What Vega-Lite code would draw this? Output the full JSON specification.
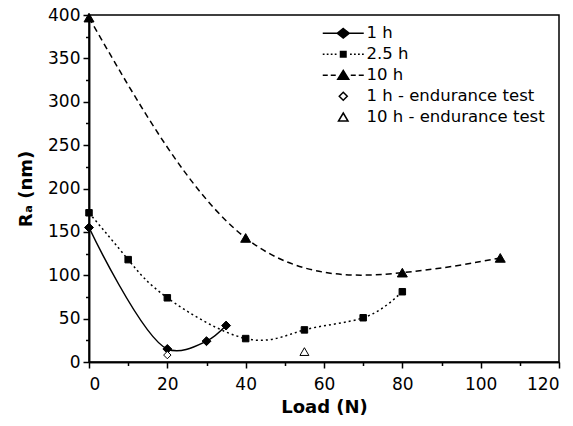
{
  "$schema": "https://vega.github.io/schema/vega-lite/v6.json",
  "width": 470,
  "height": 347,
  "autosize": {"type": "none"},
  "padding": {"top": 15, "left": 89, "right": 14, "bottom": 64},
  "background": "white",
  "config": {
    "view": {"stroke": "black", "strokeWidth": 1.5},
    "axis": {
      "domainColor": "black", "domainWidth": 1.5, "tickColor": "black", "tickWidth": 1.5,
      "labelColor": "black", "labelFont": "DejaVu Sans", "labelFontSize": 17, "grid": false,
      "titleColor": "black", "titleFont": "DejaVu Sans", "titleFontWeight": "bold", "titleFontSize": 18,
      "labelOverlap": false
    },
    "legend": {"labelFont": "DejaVu Sans", "labelColor": "black"}
  },
  "data": {
    "values": [
      {"series": "1 h", "load": 0, "ra": 155},
      {"series": "1 h", "load": 20, "ra": 15},
      {"series": "1 h", "load": 30, "ra": 24},
      {"series": "1 h", "load": 35, "ra": 42},
      {"series": "2.5 h", "load": 0, "ra": 172},
      {"series": "2.5 h", "load": 10, "ra": 118},
      {"series": "2.5 h", "load": 20, "ra": 74},
      {"series": "2.5 h", "load": 40, "ra": 27},
      {"series": "2.5 h", "load": 55, "ra": 37},
      {"series": "2.5 h", "load": 70, "ra": 51},
      {"series": "2.5 h", "load": 80, "ra": 81},
      {"series": "10 h", "load": 0, "ra": 397},
      {"series": "10 h", "load": 40, "ra": 143},
      {"series": "10 h", "load": 80, "ra": 103},
      {"series": "10 h", "load": 105, "ra": 120},
      {"series": "1 h - endurance test", "load": 20, "ra": 8},
      {"series": "10 h - endurance test", "load": 55, "ra": 12}
    ]
  },
  "layer": [
    {
      "transform": [{"filter": "datum.series === '2.5 h' || datum.series === '10 h'"}],
      "mark": {"type": "line", "interpolate": "natural", "stroke": "black", "strokeWidth": 1.5, "clip": false},
      "encoding": {
        "x": {"field": "load", "type": "quantitative", "scale": {"domain": [0, 120], "nice": false},
          "axis": {"orient": "bottom", "values": [0, 20, 40, 60, 80, 100, 120], "tickSize": 6, "labelPadding": 8, "title": "Load (N)", "titlePadding": 6}},
        "y": {"field": "ra", "type": "quantitative", "scale": {"domain": [0, 400], "nice": false},
          "axis": {"orient": "left", "values": [0, 50, 100, 150, 200, 250, 300, 350, 400], "tickSize": 6, "labelPadding": 3, "title": "Rₐ (nm)", "titlePadding": 12}},
        "detail": {"field": "series"},
        "strokeDash": {"field": "series", "type": "nominal",
          "scale": {"domain": ["1 h", "2.5 h", "10 h"], "range": [[1, 0], [2, 3], [6, 4]]}, "legend": null}
      }
    },
    {
      "transform": [{"filter": "datum.series === '1 h'"}],
      "mark": {"type": "line", "interpolate": "catmull-rom", "stroke": "black", "strokeWidth": 1.5, "clip": false},
      "encoding": {
        "x": {"field": "load", "type": "quantitative", "axis": null},
        "y": {"field": "ra", "type": "quantitative", "axis": null}
      }
    },
    {
      "mark": {"type": "point", "stroke": "black", "strokeWidth": 1, "opacity": 1, "clip": false},
      "encoding": {
        "x": {"field": "load", "type": "quantitative",
          "axis": {"orient": "bottom", "values": [10, 30, 50, 70, 90, 110], "tickSize": 3.5, "labels": false, "title": null}},
        "y": {"field": "ra", "type": "quantitative",
          "axis": {"orient": "left", "values": [25, 75, 125, 175, 225, 275, 325, 375], "tickSize": 3.5, "labels": false, "title": null}},
        "shape": {"field": "series", "type": "nominal",
          "scale": {"domain": ["1 h", "2.5 h", "10 h", "1 h - endurance test", "10 h - endurance test"],
            "range": ["diamond", "square", "triangle-up", "diamond", "triangle-up"]}, "legend": null},
        "fill": {"field": "series", "type": "nominal",
          "scale": {"domain": ["1 h", "2.5 h", "10 h", "1 h - endurance test", "10 h - endurance test"],
            "range": ["black", "black", "black", "white", "white"]}, "legend": null},
        "size": {"field": "series", "type": "nominal",
          "scale": {"type": "ordinal", "domain": ["1 h", "2.5 h", "10 h", "1 h - endurance test", "10 h - endurance test"],
            "range": [80, 42, 100, 55, 80]}, "legend": null}
      }
    },
    {
      "transform": [{"filter": "false"}],
      "mark": {"type": "point", "stroke": "black", "strokeWidth": 1.5, "opacity": 1},
      "encoding": {
        "x": {"field": "load", "type": "quantitative", "axis": null},
        "y": {"field": "ra", "type": "quantitative", "axis": null},
        "shape": {"field": "series", "type": "nominal",
          "scale": {"domain": ["1 h", "2.5 h", "10 h", "1 h - endurance test", "10 h - endurance test"],
            "range": [
              "M-4.1,0H4.1M0,-0.95L1.2,0L0,0.95L-1.2,0Z",
              "M-4.1,0H-3.75M-3.3,0H-2.95M-2.5,0H-2.15M-1.7,0H-1.35M1.35,0H1.7M2.15,0H2.5M2.95,0H3.3M3.75,0H4.1M-0.55,-0.55H0.55V0.55H-0.55Z",
              "M-4.1,0H-3.1M-2.5,0H-1.5M1.5,0H2.5M3.1,0H4.1M0,-0.95L1.1,0.8H-1.1Z",
              "M0,-0.8L0.8,0L0,0.8L-0.8,0Z",
              "M0,-0.85L0.95,0.75H-0.95Z"
            ]},
          "legend": {"title": null, "orient": "none", "legendX": 246, "legendY": 10, "symbolSize": 100,
            "labelOffset": 15, "labelFontSize": 16.5, "labelLimit": 400,
            "rowPadding": 4, "padding": 0,
            "encode": {"symbols": {"update": {"stroke": {"value": "black"}, "strokeWidth": {"value": 1.5}}}}}},
        "fill": {"field": "series", "type": "nominal",
          "scale": {"domain": ["1 h", "2.5 h", "10 h", "1 h - endurance test", "10 h - endurance test"],
            "range": ["black", "black", "black", "white", "white"]},
          "legend": {"title": null, "orient": "none", "legendX": 246, "legendY": 10, "symbolSize": 100,
            "labelOffset": 15, "labelFontSize": 16.5, "labelLimit": 400,
            "rowPadding": 4, "padding": 0,
            "encode": {"symbols": {"update": {"stroke": {"value": "black"}, "strokeWidth": {"value": 1.5}}}}}}
      }
    }
  ],
  "resolve": {
    "scale": {"shape": "independent", "fill": "independent", "size": "independent"},
    "axis": {"x": "independent", "y": "independent"}
  }
}
